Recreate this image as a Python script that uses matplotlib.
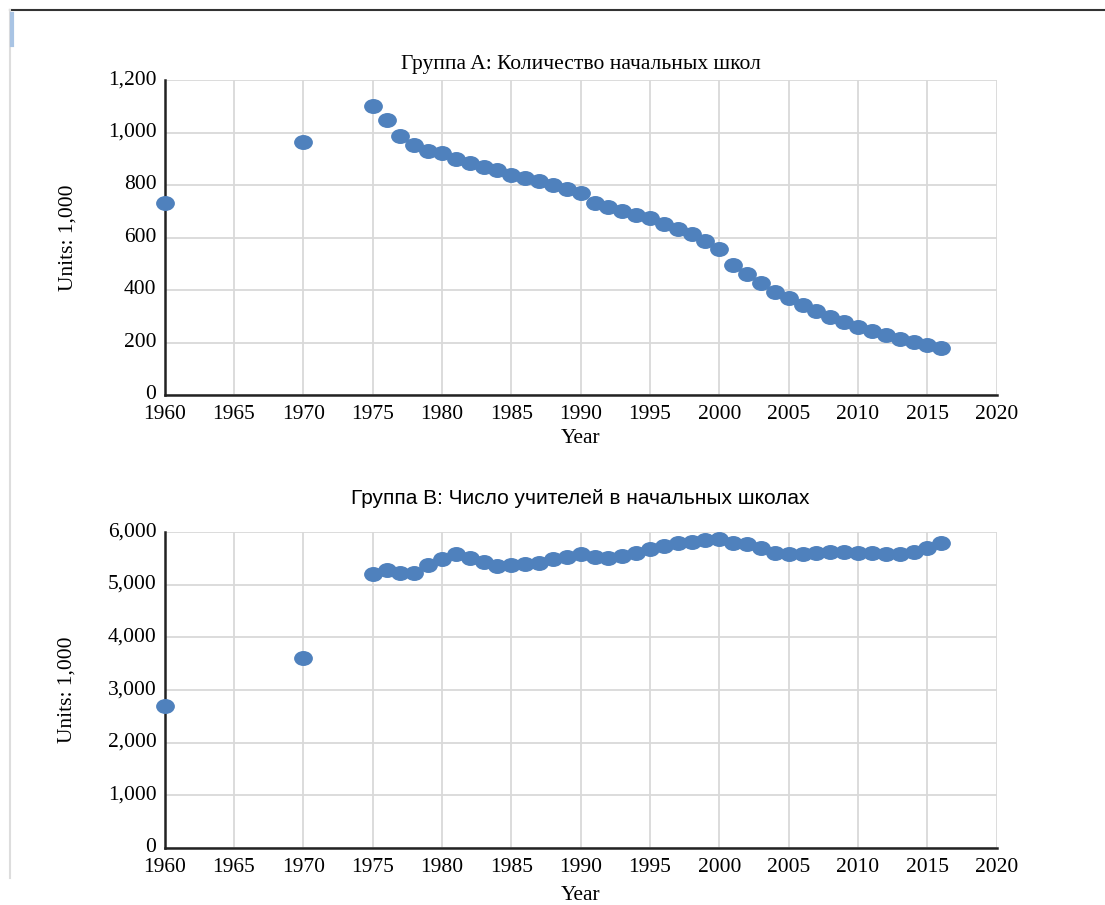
"""Primary schools and teachers, two scatter panels."""

import matplotlib.pyplot as plt
from matplotlib.lines import Line2D
from matplotlib.path import Path
from matplotlib.transforms import Affine2D, ScaledTranslation
from matplotlib.ticker import FuncFormatter, MultipleLocator

# --- data -------------------------------------------------------------
years_a = [1960, 1970] + list(range(1975, 2017))
schools = [
    730, 965,
    1100, 1048, 987, 952, 930, 922, 899, 884, 869, 857,
    838, 827, 815, 800, 785, 770, 731, 716, 701, 686,
    674, 651, 632, 613, 587, 556, 495, 461, 427, 392,
    370, 343, 320, 297, 278, 259, 244, 229, 213, 202,
    190, 179,
]

years_b = [1960, 1970] + list(range(1975, 2017))
teachers = [
    2700, 3600,
    5200, 5280, 5225, 5225, 5375, 5490, 5580, 5505, 5430, 5355,
    5375, 5390, 5410, 5490, 5525, 5580, 5525, 5505, 5545, 5600,
    5675, 5735, 5790, 5810, 5850, 5865, 5795, 5770, 5695, 5600,
    5580, 5580, 5600, 5615, 5620, 5610, 5600, 5580, 5580, 5620,
    5690, 5790,
]

titles = ["Группа A: Количество начальных школ",
          "Группа B: Число учителей в начальных школах"]
y_label = "Units: 1,000"
x_label = "Year"

BLUE = "#4F81BD"
GRID = "#D9D9D9"
SERIF = "Liberation Serif"
SANS = "Liberation Sans"

# markers in the source are a little wider than tall
ELLIPSE = Path.unit_circle().transformed(Affine2D().scale(1.0, 0.78))


def style_axis(ax, ymax, ystep, title, title_font, title_size, title_pad, xpad):
    ax.set_xlim(1960, 2020)
    ax.set_ylim(0, ymax)
    ax.xaxis.set_major_locator(MultipleLocator(5))
    ax.yaxis.set_major_locator(MultipleLocator(ystep))
    ax.yaxis.set_major_formatter(FuncFormatter(lambda v, _: f"{int(v):,}"))
    ax.grid(True, color=GRID, linewidth=1.3)
    ax.set_axisbelow(True)
    for side in ("top", "right"):
        ax.spines[side].set_visible(False)
    for side in ("left", "bottom"):
        ax.spines[side].set_linewidth(1.8)
        ax.spines[side].set_color("#222222")
    ax.tick_params(length=0, labelsize=15.5)
    ax.tick_params(axis="x", pad=7)
    ax.tick_params(axis="y", pad=6)
    lift = ScaledTranslation(0, 2 / 72, ax.figure.dpi_scale_trans)
    for lab in ax.get_yticklabels():
        lab.set_fontfamily(SERIF)
        lab.set_transform(lab.get_transform() + lift)
    for lab in ax.get_xticklabels():
        lab.set_fontfamily(SERIF)
    ax.set_xlabel(x_label, fontfamily=SERIF, fontsize=15.5, labelpad=xpad)
    ax.set_ylabel(y_label, fontfamily=SERIF, fontsize=15.5, labelpad=22)
    ax.set_title(title, fontfamily=title_font, fontsize=title_size, pad=title_pad)


fig = plt.figure(figsize=(11.05, 9.05), dpi=100)
ax1 = fig.add_axes([0.149, 0.5635, 0.753, 0.348])
ax2 = fig.add_axes([0.149, 0.063, 0.753, 0.349])

ax1.plot(years_a, schools, linestyle="none", marker=ELLIPSE, color=BLUE,
         markersize=12.5, clip_on=False, zorder=3)
ax2.plot(years_b, teachers, linestyle="none", marker=ELLIPSE, color=BLUE,
         markersize=12.5, clip_on=False, zorder=3)

style_axis(ax1, 1200, 200, titles[0], SERIF, 15.5, 8, 4)
style_axis(ax2, 6000, 1000, titles[1], SANS, 15, 20, 7)

# screenshot frame edges
fig.add_artist(Line2D([0.009, 1.0], [0.989, 0.989], color="#333333", linewidth=1.5))
fig.add_artist(Line2D([0.009, 0.009], [0.03, 0.989], color="#DDDDDD", linewidth=1.5))
fig.add_artist(Line2D([0.011, 0.011], [0.95, 0.985], color="#A9C4E4", linewidth=3))

fig.savefig("out.png", dpi=100)
plt.close(fig)
